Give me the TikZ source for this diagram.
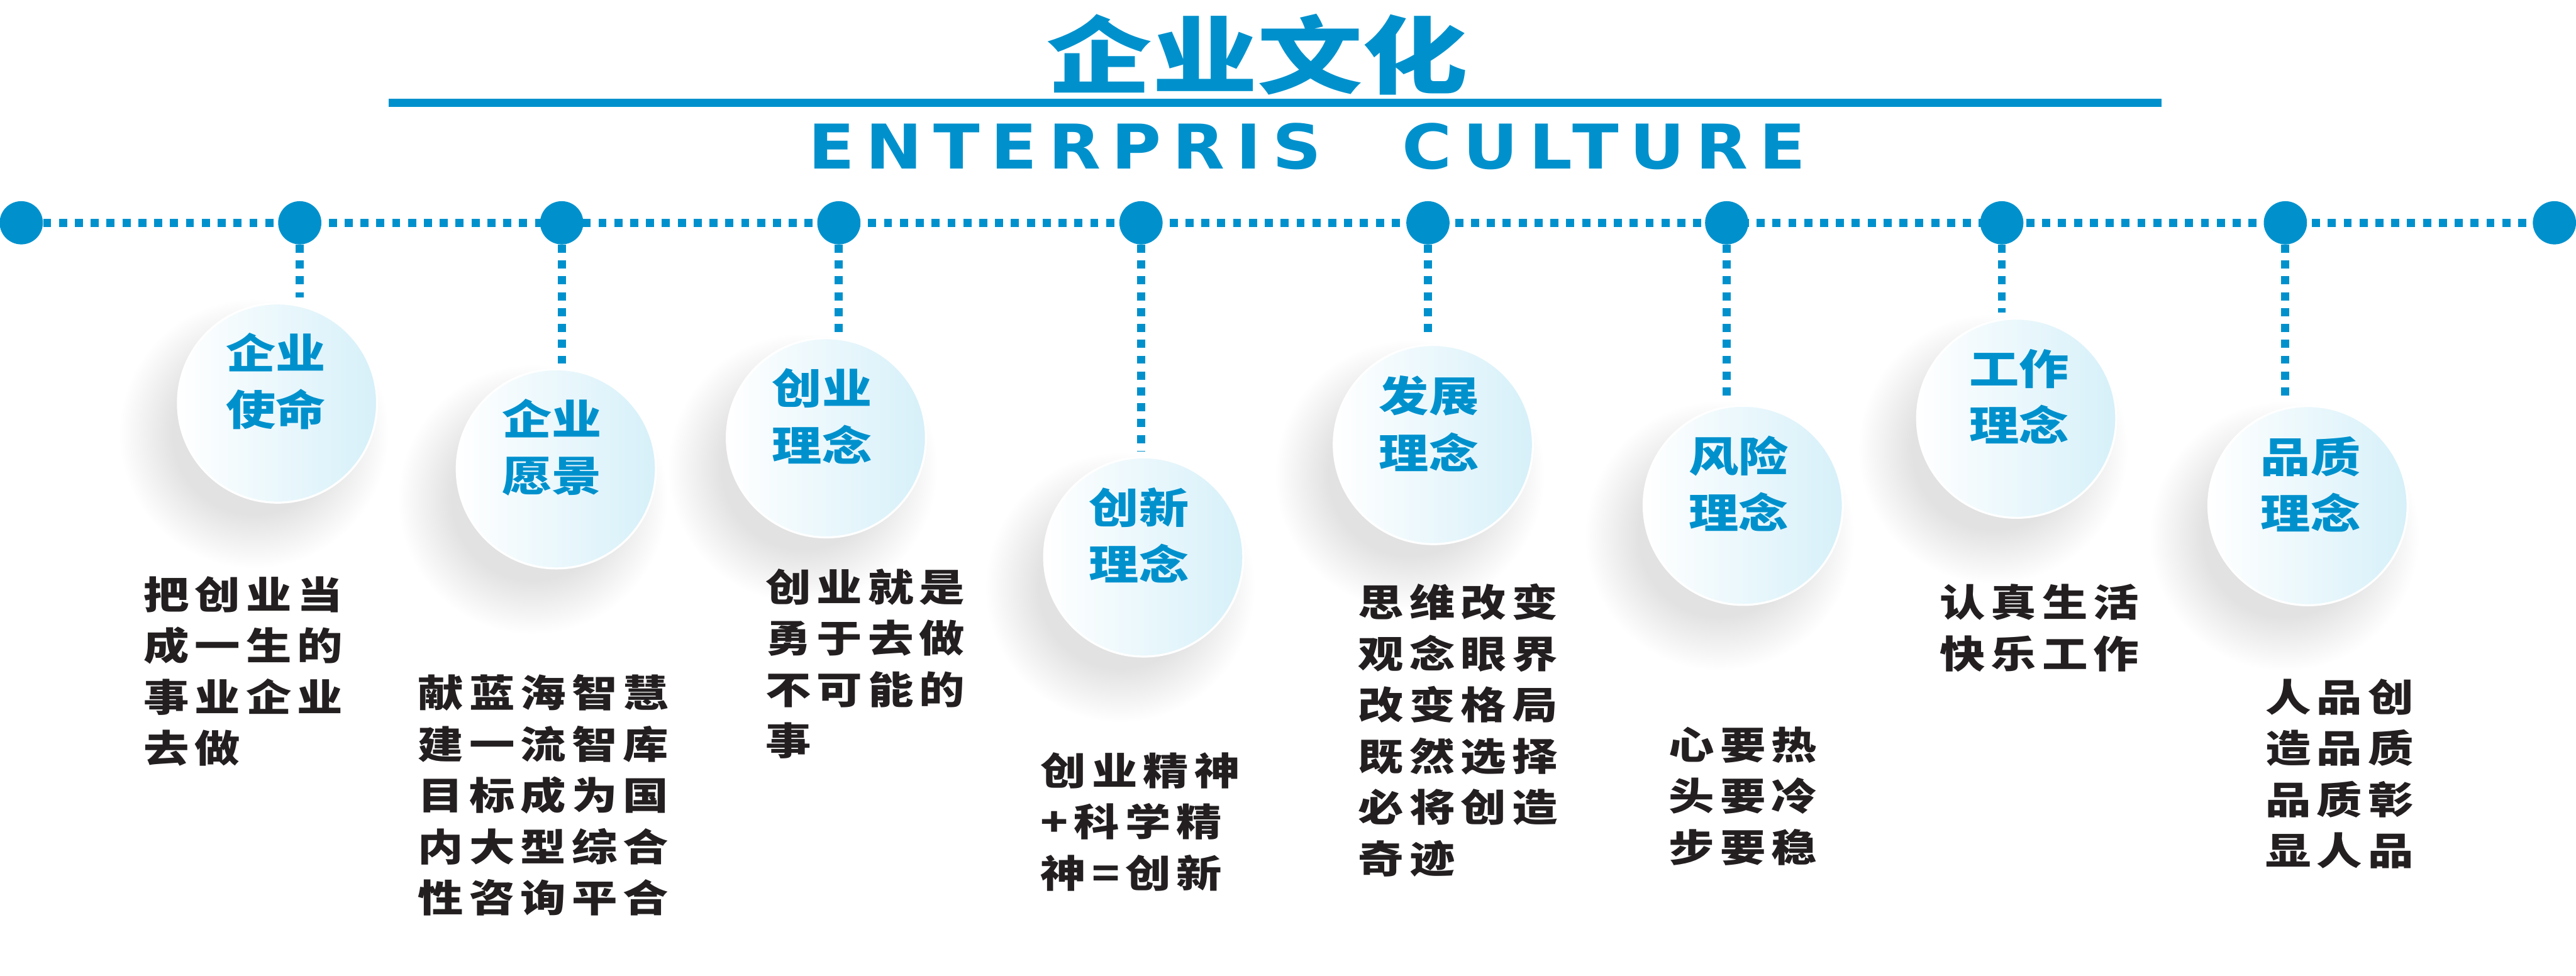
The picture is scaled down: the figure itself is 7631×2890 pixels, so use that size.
\documentclass[tikz,border=0pt]{standalone}
\usepackage{fontspec}
\usepackage{tikz}
\usetikzlibrary{calc,backgrounds}
\newfontfamily\titlecjk[FakeStretch=1.25]{Noto Sans CJK SC}
\newfontfamily\labelcjk[FakeStretch=1.2]{Noto Sans CJK SC}
\newfontfamily\bodycjk[FakeStretch=1.2,LetterSpace=15]{Noto Sans CJK SC}
\newfontfamily\engfont[FakeStretch=1.1,LetterSpace=18]{DejaVu Sans}
\definecolor{brandblue}{RGB}{0,145,205}
\definecolor{discblue}{RGB}{214,240,249}
\definecolor{inkblack}{RGB}{35,31,32}
\definecolor{shadowgray}{RGB}{226,226,226}
\pgfdeclareradialshading{discshadow}{\pgfpoint{0bp}{0bp}}{color(0bp)=(shadowgray); color(15bp)=(shadowgray); color(25bp)=(white); color(50bp)=(white)}
\tikzset{
  dotline/.style={brandblue, line width=2.4mm, dash pattern=on 2.4mm off 2.3mm},
  joint/.style={circle, fill=brandblue, minimum size=12.8mm, inner sep=0pt},
  disc/.style={circle, minimum size=59mm, inner sep=0pt, left color=white, right color=discblue, draw=white, line width=0.6mm},
  discshade/.style={shading=discshadow},
  disclabel/.style={brandblue, align=center, inner sep=0pt, font=\labelcjk\bfseries\fontsize{35}{47.8}\selectfont},
  motto/.style={inkblack, align=left, anchor=north west, inner sep=0pt, font=\bodycjk\bfseries\fontsize{32}{43.2}\selectfont}
}

\begin{document}
\begin{tikzpicture}[x=0.1mm, y=-0.1mm]
  \useasboundingbox (0,0) rectangle (7631,2890);
  % heading
  \node[brandblue, inner sep=0pt, font=\titlecjk\bfseries\fontsize{71}{80}\selectfont] (title) at (3725,161) {企业文化};
  \draw[brandblue, line width=2.4mm] (1152,304) -- (6403,304);
  \node[brandblue, inner sep=0pt, font=\engfont\bfseries\fontsize{52}{60}\selectfont] (subtitle) at (3872,433) {ENTERPRIS\hspace{24mm}CULTURE};

  % discs
  \node[disc] (c1) at (822,1194) {};
  \node[disc] (c2) at (1648,1389) {};
  \node[disc] (c3) at (2448,1297) {};
  \node[disc] (c4) at (3388,1650) {};
  \node[disc] (c5) at (4246,1317) {};
  \node[disc] (c6) at (5164,1497) {};
  \node[disc] (c7) at (5974,1239) {};
  \node[disc] (c8) at (6837,1498) {};
  \begin{scope}[on background layer]
    \shade[discshade] ($(c1)+(-70,90)$) circle[radius=40mm];
    \shade[discshade] ($(c2)+(-70,90)$) circle[radius=40mm];
    \shade[discshade] ($(c3)+(-70,90)$) circle[radius=40mm];
    \shade[discshade] ($(c4)+(-70,90)$) circle[radius=40mm];
    \shade[discshade] ($(c5)+(-70,90)$) circle[radius=40mm];
    \shade[discshade] ($(c6)+(-70,90)$) circle[radius=40mm];
    \shade[discshade] ($(c7)+(-70,90)$) circle[radius=40mm];
    \shade[discshade] ($(c8)+(-70,90)$) circle[radius=40mm];
  \end{scope}

  % timeline
  \node[joint] (d0) at (63,660) {};
  \node[joint] (d1) at (888,660) {};
  \node[joint] (d2) at (1664,660) {};
  \node[joint] (d3) at (2485,660) {};
  \node[joint] (d4) at (3380,660) {};
  \node[joint] (d5) at (4230,660) {};
  \node[joint] (d6) at (5115,660) {};
  \node[joint] (d7) at (5930,660) {};
  \node[joint] (d8) at (6770,660) {};
  \node[joint] (d9) at (7567,660) {};
  \draw[dotline] (d0) -- (d9);
  \draw[dotline, shorten >=1.5mm] (d1) -- (d1 |- c1.north);
  \draw[dotline, shorten >=1.5mm] (d2) -- (d2 |- c2.north);
  \draw[dotline, shorten >=1.5mm] (d3) -- (d3 |- c3.north);
  \draw[dotline, shorten >=1.5mm] (d4) -- (d4 |- c4.north);
  \draw[dotline, shorten >=1.5mm] (d5) -- (d5 |- c5.north);
  \draw[dotline, shorten >=1.5mm] (d6) -- (d6 |- c6.north);
  \draw[dotline, shorten >=1.5mm] (d7) -- (d7 |- c7.north);
  \draw[dotline, shorten >=1.5mm] (d8) -- (d8 |- c8.north);

  % disc titles
  \node[disclabel] (t1) at ($(c1)+(-5,-64)$) {企业\\使命};
  \node[disclabel] (t2) at ($(c2)+(-13,-64)$) {企业\\愿景};
  \node[disclabel] (t3) at ($(c3)+(-13,-64)$) {创业\\理念};
  \node[disclabel] (t4) at ($(c4)+(-14,-64)$) {创新\\理念};
  \node[disclabel] (t5) at ($(c5)+(-13,-62)$) {发展\\理念};
  \node[disclabel] (t6) at ($(c6)+(-13,-64)$) {风险\\理念};
  \node[disclabel] (t7) at ($(c7)+(8,-64)$) {工作\\理念};
  \node[disclabel] (t8) at ($(c8)+(8,-64)$) {品质\\理念};

  % mottos
  \node[motto] (m1) at (425,1707) {把创业当\\成一生的\\事业企业\\去做};
  \node[motto] (m2) at (1238,1998) {献蓝海智慧\\建一流智库\\目标成为国\\内大型综合\\性咨询平合};
  \node[motto] (m3) at (2267,1684) {创业就是\\勇于去做\\不可能的\\事};
  \node[motto] (m4) at (3082,2228) {创业精神\\+科学精\\神=创新};
  \node[motto] (m5) at (4023,1729) {思维改变\\观念眼界\\改变格局\\既然选择\\必将创造\\奇迹};
  \node[motto] (m6) at (4943,2152) {心要热\\头要冷\\步要稳};
  \node[motto] (m7) at (5745,1730) {认真生活\\快乐工作};
  \node[motto] (m8) at (6710,2010) {人品创\\造品质\\品质彰\\显人品};
\end{tikzpicture}
\end{document}
